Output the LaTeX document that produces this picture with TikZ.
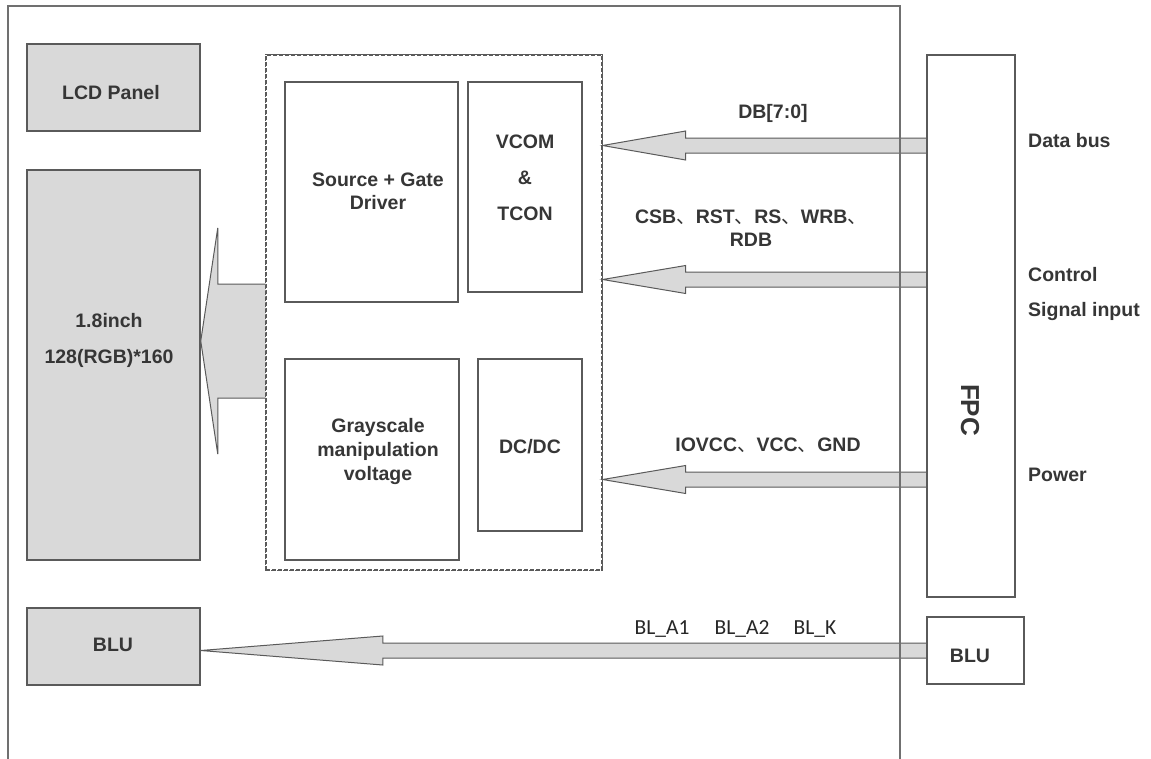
\documentclass[tikz,border=0pt]{standalone}
\usepackage{fontspec}
\setmainfont{Liberation Sans}
\newfontfamily\cjkfont{Noto Sans CJK SC}
\newfontfamily\calibrifont{Carlito}
\usetikzlibrary{calc}
\definecolor{boxgray}{HTML}{D9D9D9}
\definecolor{lc}{HTML}{5A5A5A}
\definecolor{txt}{HTML}{363636}
\definecolor{framec}{HTML}{707070}
\newcommand\zh[1]{{\cjkfont\mdseries #1}}
\newcommand\fatarrow[5]{%
  \draw[arr] ($(#1)+(0,-#4)$) -- ($(#2)+(#3,-#4)$) -- ($(#2)+(#3,-#5)$) -- (#2)
    -- ($(#2)+(#3,#5)$) -- ($(#2)+(#3,#4)$) -- ($(#1)+(0,#4)$);}
\begin{document}
\begin{tikzpicture}[x=1pt,y=-1pt,
  gbox/.style={draw=lc, line width=1.5pt, fill=boxgray, inner sep=0pt},
  wbox/.style={draw=lc, line width=1.5pt, fill=white, inner sep=0pt},
  dbox/.style={draw=lc, line width=1.3pt, dash pattern=on 4pt off 2pt, inner sep=0pt},
  lbl/.style={font=\bfseries\fontsize{19.5}{23}\selectfont, text=txt, align=center, inner sep=0pt},
  blbl/.style={font=\calibrifont\fontsize{21.5}{24}\selectfont, text=black!85, inner sep=0pt},
  arr/.style={draw=lc, line width=1pt, fill=boxgray, line join=miter},
  frame/.style={draw=framec, line width=2pt}]
\useasboundingbox (0,0) rectangle (1151,758);
\fill[white] (0,0) rectangle (1151,758);

% boxes
\node[gbox, minimum width=173pt, minimum height=87pt] (lcd) at (113.5,87.5) {};
\node[gbox, minimum width=173pt, minimum height=390pt] (panel) at (113.5,365) {};
\node[gbox, minimum width=173pt, minimum height=77pt] (bluL) at (113.5,646.5) {};
\node[wbox, minimum width=173pt, minimum height=220pt] (src) at (371.5,192) {};
\node[wbox, minimum width=114pt, minimum height=210pt] (vcom) at (525,187) {};
\node[wbox, minimum width=174pt, minimum height=201pt] (gray) at (372,459.5) {};
\node[wbox, minimum width=104pt, minimum height=172pt] (dcdc) at (530,445) {};
\node[dbox, minimum width=336pt, minimum height=515pt] (dash) at (434,312.5) {};

% coordinates for arrows
\coordinate (dbS) at (927,145.5);
\coordinate (dbE) at (dash.east |- 0,145.5);
\coordinate (ctS) at (927,279.5);
\coordinate (ctE) at (dash.east |- 0,279.5);
\coordinate (pwS) at (927,479.5);
\coordinate (pwE) at (dash.east |- 0,479.5);
\coordinate (blS) at (927,650.5);
\coordinate (blE) at (bluL.east |- 0,650.5);
\coordinate (bgS) at (dash.west |- 0,341);
\coordinate (bgE) at (panel.east |- 0,341);

\fatarrow{dbS}{dbE}{83}{7.5}{14.5}
\fatarrow{ctS}{ctE}{83}{7.5}{14}
\fatarrow{pwS}{pwE}{83}{7.5}{14}
\fatarrow{blS}{blE}{182}{7.5}{14.5}
\fatarrow{bgS}{bgE}{17}{57}{113}
\draw[dbox] (dash.south west) rectangle (dash.north east);

% right side boxes
\node[wbox, minimum width=88pt, minimum height=542pt] (fpc) at (971,326) {};
\node[wbox, minimum width=97pt, minimum height=67pt] (bluR) at (975.5,650.5) {};

% outer frame
\draw[frame] (8,760) -- (8,6) -- (900,6) -- (900,760);

% texts
\node[lbl] (lcdT) at (111,93) {LCD Panel};
\node[lbl, font=\bfseries\fontsize{19.5}{36}\selectfont] (panelT) at (109,340) {1.8inch\\128(RGB)*160};
\node[lbl] (bluLT) at (113,645) {BLU};
\node[lbl] (srcT) at (378,191.5) {Source + Gate\\Driver};
\node[lbl, font=\bfseries\fontsize{19.5}{36}\selectfont] (vcomT) at (525,177.5) {VCOM\\\&\\TCON};
\node[lbl, font=\bfseries\fontsize{19.5}{24}\selectfont] (grayT) at (378,451) {Grayscale\\manipulation\\voltage};
\node[lbl] (dcdcT) at (530,447) {DC/DC};
\node[lbl, font=\bfseries\fontsize{26}{30}\selectfont, rotate=-90] (fpcT) at (970,410) {FPC};
\node[lbl] (bluRT) at (970,656) {BLU};

\node[lbl] (dbL) at (773,113) {DB[7:0]};
\node[lbl] (ctL) at (751,228.5) {CSB\zh{、}RST\zh{、}RS\zh{、}WRB\zh{、}\\RDB};
\node[lbl] (pwL) at (768,445) {IOVCC\zh{、}VCC\zh{、}GND};

\node[lbl, anchor=west] (dataT) at (1028,141) {Data bus};
\node[lbl, anchor=west, align=left, font=\bfseries\fontsize{19.5}{35}\selectfont] (ctrlT) at (1028,293.5) {Control\\Signal input};
\node[lbl, anchor=west] (powT) at (1028,475) {Power};

\node[blbl] (bl1) at (662,629) {BL\_A1};
\node[blbl] (bl2) at (742,629) {BL\_A2};
\node[blbl] (bl3) at (815,629) {BL\_K};
\end{tikzpicture}
\end{document}
